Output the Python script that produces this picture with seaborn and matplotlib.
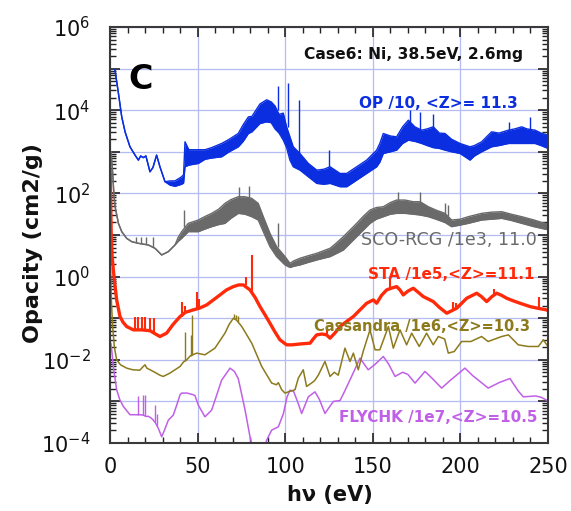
import numpy as np
import pandas as pd
import matplotlib
matplotlib.use("Agg")
import matplotlib.pyplot as plt
import matplotlib.ticker as mticker
import seaborn as sns

# ---------------- data (log10 of opacity) ----------------
# OP /10 : energy, lower and upper edge of the noisy band
op_e = [2.8, 4.8, 6.7, 8.6, 11.4, 14.3, 16.2, 17.5, 19, 20.5, 22.8, 24.5, 26.6, 28.5, 31.4,
        34.2, 37.1, 40.9, 42.0, 42.8, 45, 50.4, 54.2, 58, 63.7, 68, 73.2, 76, 79, 81, 85.6,
        89.4, 92, 94.2, 96.5, 98.9, 100.8, 102.7, 104.6, 108.4, 113.2, 118, 122, 125.6,
        131.3, 135.1, 140.8, 146.5, 152.2, 154, 156, 160, 163.6, 167, 170.3, 174, 177.9,
        181, 184.5, 188, 191.2, 195, 199.8, 205.5, 208, 212.1, 217.8, 222, 227.4, 231, 235,
        238, 242.6, 246, 250]
op_lo = [4.98, 4.41, 3.84, 3.48, 3.12, 2.92, 2.80, 2.90, 2.86, 2.90, 2.52, 2.62, 2.92, 2.64, 2.28,
         2.20, 2.17, 2.22, 2.25, 2.64, 2.68, 2.72, 2.82, 2.85, 2.88, 3.00, 3.12, 3.25, 3.44, 3.48, 3.68,
         3.72, 3.70, 3.55, 3.45, 3.28, 3.10, 2.80, 2.64, 2.56, 2.40, 2.24, 2.22, 2.24,
         2.16, 2.16, 2.32, 2.48, 2.64, 2.75, 2.96, 3.00, 3.04, 3.20, 3.28, 3.25, 3.20,
         3.15, 3.10, 3.08, 3.04, 3.00, 2.96, 2.80, 2.90, 3.00, 3.12, 3.15, 3.20, 3.20, 3.20,
         3.20, 3.20, 3.15, 3.08]
op_hi = [4.98, 4.41, 3.84, 3.48, 3.12, 2.92, 2.80, 2.90, 2.86, 2.90, 2.52, 2.62, 2.92, 2.64, 2.28,
         2.30, 2.30, 2.40, 2.45, 3.24, 3.05, 3.05, 3.05, 3.10, 3.20, 3.30, 3.44, 3.65, 3.84, 3.85, 4.15,
         4.25, 4.20, 4.10, 3.90, 3.93, 3.60, 3.36, 3.12, 2.96, 2.72, 2.56, 2.58, 2.64,
         2.48, 2.48, 2.64, 2.80, 3.04, 3.20, 3.44, 3.38, 3.36, 3.60, 3.76, 3.60, 3.52,
         3.55, 3.60, 3.45, 3.44, 3.30, 3.20, 3.12, 3.15, 3.24, 3.48, 3.45, 3.52, 3.55, 3.60,
         3.55, 3.52, 3.45, 3.40]
op_spk_e = [95.7, 101.4, 108.0, 125.2, 171.5, 177.0, 184.2, 227.8, 240.0]
op_spk_lo = [4.00, 3.60, 2.96, 2.64, 3.70, 3.50, 3.55, 3.50, 3.55]
op_spk_hi = [4.58, 4.66, 4.25, 3.04, 4.00, 3.96, 3.92, 3.72, 3.84]

# SCO-RCG /1e3
sco_e = [0.6, 1.5, 2.2, 2.9, 4.8, 6.7, 9.5, 12.4, 16.2, 21.9, 25.7, 29.5, 33.3, 37.1, 39,
         40.9, 44.7, 50.4, 54, 58, 62, 65.6, 69, 73.2, 77, 80.9, 84.6, 87.5, 91.3, 95.1,
         99.9, 102.7, 105, 108.4, 113, 118, 125.6, 129, 133.2, 137, 140.8, 144.6, 148.4,
         152, 156, 160, 163.6, 168.4, 173, 177, 181.7, 186, 191.2, 195, 200, 204.5, 212.1,
         218, 223.6, 229, 235, 242, 248.3, 250]
sco_lo = [3.00, 2.50, 2.00, 1.68, 1.28, 1.08, 0.92, 0.84, 0.80, 0.76, 0.68, 0.52, 0.60, 0.76, 0.85,
          0.92, 1.08, 1.08, 1.14, 1.20, 1.25, 1.28, 1.40, 1.52, 1.50, 1.44, 1.36, 1.08, 0.72, 0.48,
          0.28, 0.22, 0.25, 0.28, 0.34, 0.40, 0.48, 0.55, 0.64, 0.80, 0.96, 1.12, 1.28,
          1.38, 1.44, 1.50, 1.52, 1.52, 1.50, 1.48, 1.44, 1.38, 1.30, 1.20, 1.24, 1.28, 1.36,
          1.38, 1.40, 1.35, 1.28, 1.20, 1.14, 1.13]
sco_hi = [3.00, 2.50, 2.00, 1.68, 1.28, 1.08, 0.92, 0.84, 0.80, 0.76, 0.68, 0.52, 0.60, 0.76, 0.95,
          1.08, 1.28, 1.36, 1.44, 1.52, 1.62, 1.76, 1.85, 1.92, 1.92, 1.88, 1.76, 1.44, 1.04, 0.72,
          0.48, 0.32, 0.38, 0.44, 0.50, 0.56, 0.68, 0.80, 0.96, 1.12, 1.28, 1.45, 1.60,
          1.66, 1.68, 1.78, 1.84, 1.84, 1.80, 1.80, 1.68, 1.60, 1.52, 1.36, 1.38, 1.44, 1.52,
          1.55, 1.56, 1.50, 1.44, 1.36, 1.28, 1.26]
sco_spk_e = [14.8, 17.7, 20.5, 24.3, 42.4, 73.5, 79.3, 96.0, 164.6, 177.0, 191.0, 193.0]
sco_spk_lo = [0.82, 0.80, 0.78, 0.72, 1.20, 1.90, 1.90, 0.70, 1.80, 1.78, 1.50, 1.45]
sco_spk_hi = [0.96, 0.96, 0.96, 0.96, 1.60, 2.16, 2.17, 1.30, 2.04, 2.04, 1.76, 1.72]

# STA /1e5
sta_e = [0.1, 0.3, 0.7, 1.2, 1.9, 2.8, 3.8, 5.7, 7.5, 9.5, 13.3, 18, 22.8, 26, 28.5, 32.3, 36,
         40, 43, 47.5, 51, 55.2, 59, 62.8, 66.5, 70.4, 73.5, 76.1, 79.9, 82.8, 85.6, 88.5,
         91.3, 94, 97, 100.8, 104, 108.4, 114.2, 116, 118, 121, 123.6, 125.6, 128.5, 131.3,
         135, 138.9, 142.7, 146.5, 150.3, 152.2, 155, 157.9, 160.5, 163.6, 165.5, 167.4,
         170, 173.1, 176, 178.8, 184.5, 188, 192.2, 197.9, 203.6, 209.3, 212, 215, 218,
         220.7, 223.5, 226.4, 230, 234, 239.7, 244, 249.2, 250]
sta_v = [2.56, 2.00, 1.00, 0.50, 0.16, -0.20, -0.56, -0.96, -1.10, -1.20, -1.28, -1.28, -1.30,
         -1.38, -1.44, -1.36, -1.15, -0.96, -0.86, -0.80, -0.76, -0.68, -0.56, -0.44, -0.32,
         -0.24, -0.20, -0.20, -0.32, -0.50, -0.72, -0.92, -1.12, -1.32, -1.52, -1.64, -1.64,
         -1.62, -1.60, -1.50, -1.40, -1.38, -1.40, -1.48, -1.35, -1.20, -1.08, -0.96, -0.80,
         -0.64, -0.56, -0.64, -0.45, -0.32, -0.28, -0.24, -0.32, -0.44, -0.35, -0.28, -0.38,
         -0.48, -0.60, -0.74, -0.88, -0.76, -0.52, -0.40, -0.48, -0.60, -0.48, -0.40, -0.45,
         -0.52, -0.58, -0.64, -0.72, -0.76, -0.80, -0.82]
sta_spk_e = [14.0, 16.2, 18.0, 20.1, 22.6, 25.0, 40.9, 43.0, 49.5, 50.6, 77.4, 81.2, 124.0,
             160.0, 196.0, 197.6, 219.0, 245.0]
sta_spk_lo = [-1.28, -1.28, -1.28, -1.29, -1.30, -1.34, -0.96, -0.86, -0.79, -0.78, -0.21, -0.36,
              -1.42, -0.28, -0.80, -0.78, -0.44, -0.77]
sta_spk_hi = [-0.98, -0.96, -0.98, -0.96, -1.00, -1.00, -0.60, -0.70, -0.36, -0.55, 0.00, 0.52,
              -1.25, -0.05, -0.62, -0.64, -0.30, -0.50]

# Cassandra /1e6
cas_e = [0.3, 0.8, 1.5, 2.5, 3.8, 6, 9.5, 13, 17, 19, 20, 21, 24.7, 28.5, 30.4, 34.2, 40, 42,
         43.8, 46, 49.5, 54.2, 59.9, 65.6, 68, 70.4, 72.3, 75.2, 80.9, 86.6, 92.3, 95, 96.1,
         98, 99.9, 102.5, 105.6, 107.5, 110.3, 112.2, 115, 116.8, 118.9, 122.7, 125.6, 128,
         130.3, 134.1, 137, 138.9, 141.7, 144.5, 148.4, 151.3, 154, 158.9, 161.7, 165.5,
         169.3, 172.2, 176.5, 180.7, 184.5, 187.4, 191, 193.1, 196.5, 200.7, 206, 212.1,
         215.8, 223.6, 227.4, 233, 238.7, 244.5, 247.3, 250]
cas_v = [0.20, -0.60, -1.20, -1.70, -2.00, -2.12, -2.20, -2.24, -2.25, -2.16, -2.12, -2.20,
         -2.28, -2.37, -2.40, -2.32, -2.16, -2.05, -2.00, -1.90, -1.84, -1.88, -1.72, -1.36,
         -1.15, -1.00, -1.05, -1.20, -1.60, -2.16, -2.56, -2.60, -2.55, -2.72, -2.80, -2.76,
         -2.72, -2.44, -2.24, -2.64, -2.56, -2.50, -2.37, -2.04, -2.40, -2.30, -2.37, -1.72,
         -2.04, -1.84, -2.24, -1.80, -1.28, -1.76, -1.76, -1.20, -1.72, -1.28, -1.64, -1.36,
         -1.68, -1.36, -1.64, -1.44, -1.50, -1.84, -1.80, -1.56, -1.56, -1.44, -1.56, -1.44,
         -1.40, -1.64, -1.68, -1.68, -1.52, -1.68]
cas_spk_e = [42.8, 46.2, 47.0, 71.0, 72.0, 73.2]
cas_spk_lo = [-2.04, -1.90, -1.88, -1.02, -1.03, -1.08]
cas_spk_hi = [-1.32, -1.40, -0.92, -0.90, -0.92, -0.95]

# FLYCHK /1e7
fly_e = [0.5, 1.0, 2.0, 3.8, 5.5, 7.6, 11.4, 14, 17.1, 19, 20.5, 22, 23.5, 24.7, 26, 27.6,
         29.5, 31, 33.3, 36.1, 38, 40, 40.9, 44, 47.5, 48.5, 50.4, 54.2, 58, 60.5, 63.7, 68.5,
         71, 73.2, 75, 77.1, 79.9, 81.3, 84, 88.5, 89.4, 92.3, 96.1, 99, 101, 102.7, 104.8,
         107, 109.4, 113.2, 117, 119.5, 122.7, 125, 127.5, 131.3, 134, 137.9, 142.7, 145,
         147.4, 151, 156, 159, 162.7, 167, 170, 174.1, 179.8, 184, 189.3, 194.6, 202.6, 207,
         215.9, 222, 228.3, 233, 235.9, 243, 246, 249.2, 250]
fly_v = [-1.60, -1.77, -2.20, -2.72, -2.95, -3.12, -3.32, -3.32, -3.32, -3.33, -3.36, -3.36,
         -3.40, -3.45, -3.52, -3.65, -3.85, -3.70, -3.45, -3.33, -3.10, -2.84, -2.80, -2.80,
         -2.84, -2.86, -3.09, -3.37, -3.21, -2.90, -2.49, -2.20, -2.28, -2.45, -2.80, -3.21,
         -3.85, -4.10, -4.60, -4.10, -3.93, -3.69, -3.61, -3.29, -2.90, -2.73, -2.76, -3.00,
         -3.29, -2.89, -2.77, -2.95, -3.29, -3.15, -3.00, -2.98, -2.75, -2.40, -1.96, -2.10,
         -2.24, -2.12, -1.92, -2.10, -2.40, -2.30, -2.35, -2.56, -2.28, -2.45, -2.68, -2.48,
         -2.20, -2.38, -2.68, -2.55, -2.45, -2.75, -2.89, -2.87, -2.90, -2.97, -3.00]
fly_spk_e = [16.2, 18.9, 20.0, 25.7, 27.0]
fly_spk_lo = [-3.32, -3.32, -3.35, -3.50, -3.60]
fly_spk_hi = [-2.87, -2.85, -2.85, -3.09, -3.30]

labels = ["OP /10, <Z>= 11.3", "SCO-RCG /1e3, 11.0", "STA /1e5,<Z>=11.1",
          "Cassandra /1e6,<Z>=10.3", "FLYCHK /1e7,<Z>=10.5"]
x_ticks = [0, 50, 100, 150, 200, 250]

# ---------------- styling ----------------
sns.set_theme(style="ticks")
plt.rcParams['font.family'] = ['DejaVu Sans']
plt.rcParams['mathtext.fontset'] = 'dejavusans'

c_op = "#0a2ee0"
c_sco = "#6a6a6a"
c_sta = "#ff2a0a"
c_cas = "#8c7a1c"
c_fly = "#c060e6"
grid_c = "#b4bcf2"

fig = plt.figure(figsize=(5.71, 5.11), dpi=100)
ax = fig.add_axes([110/571, 1-443/511, 438/571, 416/511])


def p(v):
    return np.power(10.0, np.asarray(v, dtype=float))


# noisy bands (lower / upper envelopes)
for e, lo, hi, c in [(op_e, op_lo, op_hi, c_op), (sco_e, sco_lo, sco_hi, c_sco)]:
    ax.fill_between(e, p(lo), p(hi), color=c, lw=0, alpha=1.0)
    for edge in (lo, hi):
        df = pd.DataFrame({"E": e, "v": p(edge)})
        sns.lineplot(data=df, x="E", y="v", ax=ax, color=c, lw=1.0, estimator=None, sort=False)

# smooth curves
for e, v, c, lw in [(fly_e, fly_v, c_fly, 1.1), (cas_e, cas_v, c_cas, 1.1), (sta_e, sta_v, c_sta, 2.4)]:
    df = pd.DataFrame({"E": e, "v": p(v)})
    sns.lineplot(data=df, x="E", y="v", ax=ax, color=c, lw=lw, estimator=None, sort=False)

# spikes
for e, lo, hi, c, lw in [(op_spk_e, op_spk_lo, op_spk_hi, c_op, 1.0),
                         (sco_spk_e, sco_spk_lo, sco_spk_hi, c_sco, 1.0),
                         (sta_spk_e, sta_spk_lo, sta_spk_hi, c_sta, 1.5),
                         (cas_spk_e, cas_spk_lo, cas_spk_hi, c_cas, 1.0),
                         (fly_spk_e, fly_spk_lo, fly_spk_hi, c_fly, 1.0)]:
    ax.vlines(e, p(lo), p(hi), color=c, lw=lw)

ax.set_yscale("log")
ax.set_xlim(0, 250)
ax.set_ylim(1e-4, 1e6)

ax.set_xticks(x_ticks)
ax.xaxis.set_minor_locator(mticker.MultipleLocator(10))
ax.yaxis.set_major_locator(mticker.LogLocator(base=10, numticks=20))
ax.yaxis.set_minor_locator(mticker.LogLocator(base=10, subs=np.arange(2, 10), numticks=20))


def yfmt(val, pos):
    ex = int(round(np.log10(val)))
    return r"$\mathregular{10^{%d}}$" % ex if ex % 2 == 0 else ""


ax.yaxis.set_major_formatter(mticker.FuncFormatter(yfmt))
ax.yaxis.set_minor_formatter(mticker.NullFormatter())

ax.grid(True, which="major", color=grid_c, lw=0.9)
ax.set_axisbelow(True)

for s in ax.spines.values():
    s.set_color("#3a3a3a")
    s.set_linewidth(1.5)

ax.tick_params(which="both", direction="in", top=True, right=True, color="#222222")
ax.tick_params(which="major", length=7, width=1.2, labelsize=15, labelcolor="#111111")
ax.tick_params(which="minor", length=4, width=1.0)
ax.tick_params(axis="y", which="major", pad=14)
ax.tick_params(axis="x", which="major", pad=10)

ax.set_xlabel("h\u03bd (eV)", fontsize=15, fontweight="bold", color="#111111", va="center")
ax.set_ylabel("Opacity (cm2/g)", fontsize=16, fontweight="bold", color="#111111", va="center")
ax.xaxis.set_label_coords(0.502, -0.126)
ax.yaxis.set_label_coords(-0.176, 0.48)

ax.text(0.943, 0.935, "Case6: Ni, 38.5eV, 2.6mg", transform=ax.transAxes, ha="right",
        va="center", fontsize=11.2, fontweight="bold", color="#111111")
ax.text(0.0708, 0.875, "C", transform=ax.transAxes, ha="center", va="center",
        fontsize=24, fontweight="heavy", color="black")
ax.text(0.932, 0.817, labels[0], transform=ax.transAxes, ha="right", va="center",
        fontsize=11, fontweight="bold", color=c_op)
ax.text(0.975, 0.488, labels[1], transform=ax.transAxes, ha="right", va="center",
        fontsize=12.6, color=c_sco)
ax.text(0.970, 0.404, labels[2], transform=ax.transAxes, ha="right", va="center",
        fontsize=11, fontweight="bold", color=c_sta)
ax.text(0.959, 0.281, labels[3], transform=ax.transAxes, ha="right", va="center",
        fontsize=10.5, fontweight="bold", color=c_cas)
ax.text(0.977, 0.0625, labels[4], transform=ax.transAxes, ha="right", va="center",
        fontsize=11, fontweight="bold", color=c_fly)

fig.savefig("out.png", dpi=100)
